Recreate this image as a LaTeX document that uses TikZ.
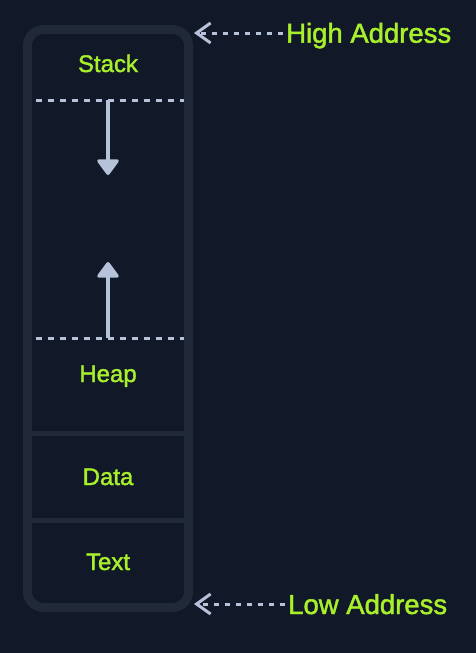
\documentclass[tikz,border=0pt]{standalone}
\usepackage{fontspec}
\setmainfont{Liberation Sans}
\newfontface\labelface{Liberation Sans}[FakeBold=1.6]
\usetikzlibrary{arrows.meta}
\definecolor{bgdark}{HTML}{111827}
\definecolor{boxedge}{HTML}{1F2937}
\definecolor{limetext}{HTML}{A8F02C}
\definecolor{pointer}{HTML}{B6C1DA}
\tikzset{
	seg/.style={text=limetext, font=\labelface\fontsize{24}{28}\selectfont, anchor=base, inner sep=0pt},
	addr/.style={text=limetext, font=\labelface\fontsize{27.5}{32}\selectfont, anchor=base west, inner sep=0pt},
	guide/.style={pointer, line width=3pt, dash pattern=on 6pt off 6pt},
	growarrow/.style={pointer, line width=3.5pt, -{Triangle[length=17pt,width=24pt,round]}},
	pointto/.style={pointer, line width=3pt, dash pattern=on 5pt off 6pt, shorten <=3pt, -{Straight Barb[length=14pt,width=20pt,line width=3pt]}}
}

\begin{document}
\begin{tikzpicture}[x=1pt,y=-1pt]
		\fill[bgdark] (0,0) rectangle (476,653);%background
		\useasboundingbox (0,0) rectangle (476,653);
		
		\draw[boxedge, line width=9pt, rounded corners=16pt] (27.5,29.5) rectangle (188.5,607.5);%frame
		\draw[boxedge, line width=5pt] (32,433) -- (184,433);%heap / data
		\draw[boxedge, line width=5pt] (32,520) -- (184,520);%data / text
		
		\draw[guide] (36,100) -- (184,100);%stack limit
		\draw[guide] (36,338) -- (184,338);%heap limit
		
		\node[seg] (stack) at (108,72) {Stack};
		\node[seg] (heap) at (108,382) {Heap};
		\node[seg] (data) at (108,485) {Data};
		\node[seg] (text) at (108,570) {Text};
		
		\coordinate (stacktop) at (108,100);
		\coordinate (stackend) at (108,175);
		\coordinate (heaptop) at (108,338);
		\coordinate (heapend) at (108,262);
		\draw[growarrow] (stacktop) -- (stackend);%stack grows down
		\draw[growarrow] (heaptop) -- (heapend);%heap grows up
		
		\node[addr] (high) at (286,42.7) {High Address};
		\node[addr] (low) at (288,614) {Low Address};
		\coordinate (hightip) at (194,33);
		\coordinate (lowtip) at (194,604);
		\draw[pointto] (high.west |- hightip) -- (hightip);
		\draw[pointto] (low.west |- lowtip) -- (lowtip);
\end{tikzpicture}
\end{document}
